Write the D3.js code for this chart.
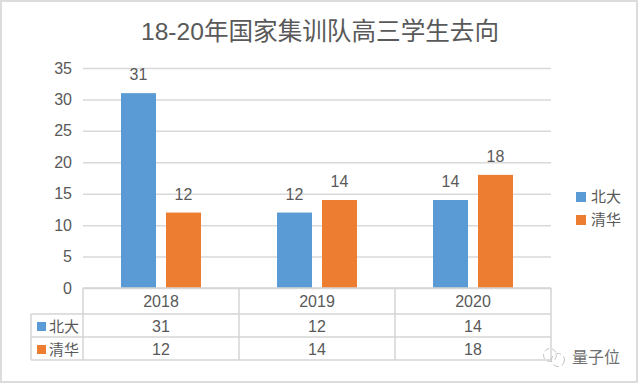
<!DOCTYPE html>
<html>
<head>
<meta charset="utf-8">
<script src="https://cdn.jsdelivr.net/npm/d3@7"></script>
<style>
  html, body { margin: 0; padding: 0; background: #fff; }
  svg { display: block; }
  text { font-family: "Liberation Sans", "Noto Sans CJK SC", sans-serif; fill: #595959; }
</style>
</head>
<body>
<div id="chart"></div>
<script>
const years = ["2018", "2019", "2020"];
const seriesNames = ["北大", "清华"];
const beida = [31, 12, 14];
const qinghua = [12, 14, 18];
const yTicks = [0, 5, 10, 15, 20, 25, 30, 35];
const titleText = "18-20年国家集训队高三学生去向";
const markText = "量子位";

const width = 640,
  height = 385;

const seriesValues = [beida, qinghua];
const colors = d3.scaleOrdinal(seriesNames, ["#5b9bd5", "#ed7d31"]);
const gridColor = "#d9d9d9";
const tableColor = "#d4d4d4";

const x = d3.scaleBand().domain(years).range([83, 551]);
const xInner = d3.scaleBand()
  .domain(seriesNames)
  .range([0, x.bandwidth()])
  .paddingInner(10 / 45)
  .paddingOuter(38 / 45);
const y = d3.scaleLinear().domain([0, 35]).range([288, 68]);

const svg = d3.select("#chart")
  .append("svg")
  .attr("width", width)
  .attr("height", height)
  .attr("viewBox", [0, 0, width, height]);

// outer frame
svg.append("rect")
  .attr("x", 1)
  .attr("y", 1)
  .attr("width", 636)
  .attr("height", 381)
  .attr("fill", "#fff")
  .attr("stroke", "#dcdcdc")
  .attr("stroke-width", 2);

svg.append("text")
  .attr("x", 320)
  .attr("y", 40)
  .attr("text-anchor", "middle")
  .attr("font-size", 24.6)
  .text(titleText);

// y axis, only used for gridlines and labels
const yAxis = d3.axisLeft(y)
  .tickValues(yTicks)
  .tickSize(-(551 - 83))
  .tickPadding(11);

const yG = svg.append("g")
  .attr("transform", "translate(83,0)")
  .call(yAxis);
yG.select(".domain").remove();
yG.selectAll("line").attr("stroke", gridColor).attr("stroke-width", 1.5);
yG.selectAll("text").attr("font-size", 16).style("fill", "#595959");

// bars
const groups = svg.append("g")
  .selectAll("g")
  .data(seriesNames)
  .join("g")
  .attr("fill", d => colors(d));

groups.selectAll("rect")
  .data((name, i) => years.map((year, j) => ({ name, year, value: seriesValues[i][j] })))
  .join("rect")
  .attr("x", d => x(d.year) + xInner(d.name))
  .attr("y", d => y(d.value))
  .attr("width", xInner.bandwidth())
  .attr("height", d => y(0) - y(d.value));

groups.selectAll("text")
  .data((name, i) => years.map((year, j) => ({ name, year, value: seriesValues[i][j] })))
  .join("text")
  .attr("x", d => x(d.year) + xInner(d.name) + xInner.bandwidth() / 2)
  .attr("y", d => y(d.value) - 13)
  .attr("text-anchor", "middle")
  .attr("font-size", 16)
  .text(d => d.value);

// data table under the plot
const rowY = d3.scaleOrdinal(["head", ...seriesNames], [301.5, 326.5, 349.5]);
const tableLines = svg.append("g")
  .attr("stroke", tableColor)
  .attr("stroke-width", 1.5);

[288, 314, 337, 360].forEach((yy, i) => {
  tableLines.append("line")
    .attr("x1", i === 0 ? 83 : 31)
    .attr("x2", 551)
    .attr("y1", yy)
    .attr("y2", yy);
});
tableLines.append("line").attr("x1", 31).attr("x2", 31).attr("y1", 314).attr("y2", 360);
[83, 239, 395, 551].forEach(xx => {
  tableLines.append("line").attr("x1", xx).attr("x2", xx).attr("y1", 288).attr("y2", 360);
});

const cx = d => x(d) + x.bandwidth() / 2;

svg.append("g")
  .selectAll("text")
  .data(years)
  .join("text")
  .attr("x", cx)
  .attr("y", rowY("head"))
  .attr("dy", "0.36em")
  .attr("text-anchor", "middle")
  .attr("font-size", 16)
  .text(d => d);

seriesNames.forEach((name, i) => {
  const row = svg.append("g");
  row.selectAll("text.cell")
    .data(years)
    .join("text")
    .attr("class", "cell")
    .attr("x", cx)
    .attr("y", rowY(name))
    .attr("dy", "0.36em")
    .attr("text-anchor", "middle")
    .attr("font-size", 16)
    .text((d, j) => seriesValues[i][j]);
  row.append("rect")
    .attr("x", 37)
    .attr("y", rowY(name) - 4.5)
    .attr("width", 9)
    .attr("height", 9)
    .attr("fill", colors(name));
  row.append("text")
    .attr("x", 49)
    .attr("y", rowY(name))
    .attr("dy", "0.36em")
    .attr("font-size", 15)
    .text(name);
});

// legend on the right
const legend = svg.append("g")
  .selectAll("g")
  .data(seriesNames)
  .join("g")
  .attr("transform", (d, i) => `translate(576,${197 + i * 23})`);
legend.append("rect")
  .attr("y", -5)
  .attr("width", 10)
  .attr("height", 10)
  .attr("fill", d => colors(d));
legend.append("text")
  .attr("x", 15)
  .attr("dy", "0.36em")
  .attr("font-size", 15)
  .text(d => d);

// watermark, small wechat style icon and name
const mark = svg.append("g").attr("fill", "none").attr("stroke", "#c4c4c4").attr("stroke-width", 1);
mark.append("circle").attr("cx", 550).attr("cy", 355).attr("r", 6.5).attr("stroke-dasharray", "5 3");
mark.append("circle").attr("cx", 558).attr("cy", 360).attr("r", 6.5).attr("stroke-dasharray", "6 3");
svg.append("text")
  .attr("x", 572)
  .attr("y", 363)
  .attr("font-size", 16)
  .style("fill", "#6f6f6f")
  .text(markText);
</script>
</body>
</html>
